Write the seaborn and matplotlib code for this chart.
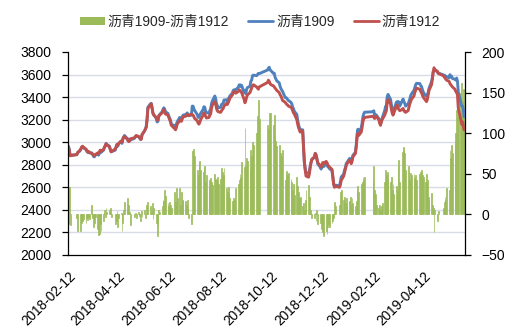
import numpy as np
import pandas as pd
import matplotlib
matplotlib.use("Agg")
import matplotlib.pyplot as plt
import matplotlib.dates as mdates
from matplotlib.patches import Patch
from matplotlib.lines import Line2D
import seaborn as sns

# ---------------- data ----------------
start_date = "2018-02-12"
end_date = "2019-05-31"
holidays = ["2018-02-15", "2018-02-16", "2018-02-19", "2018-02-20", "2018-02-21",
            "2018-04-05", "2018-04-06", "2018-04-30", "2018-05-01", "2018-06-18",
            "2018-09-24", "2018-10-01", "2018-10-02", "2018-10-03", "2018-10-04",
            "2018-10-05", "2018-12-31", "2019-01-01", "2019-02-04", "2019-02-05",
            "2019-02-06", "2019-02-07", "2019-02-08", "2019-04-05", "2019-05-01",
            "2019-05-02", "2019-05-03"]

blue_1909 = [
    2965, 2935, 2885, 2890, 2905, 2925, 2940, 2955,
    2960, 2950, 2935, 2920, 2910, 2915, 2905, 2905, 2890, 2875, 2870, 2885, 2895, 2885, 2900, 2920, 2910, 2930, 2955, 2965, 2990, 2980,
    2965, 2940, 2915, 2930, 2955, 2980, 2965, 2985, 3010, 2990, 3025, 3045, 3060, 3035, 3030, 3015, 3010, 3020,
    3035, 3050, 3055, 3050, 3040, 3025, 3030, 3065, 3100, 3115, 3140, 3205, 3310, 3340, 3345, 3310, 3255, 3245, 3210, 3180, 3185, 3235,
    3245, 3270, 3290, 3305, 3295, 3270, 3255, 3230, 3215, 3195, 3160, 3145, 3125, 3160, 3180, 3220, 3210, 3210, 3220, 3240,
    3245, 3250, 3260, 3245, 3235, 3240, 3320, 3320, 3295, 3280, 3245, 3220, 3220, 3240, 3255, 3290, 3315, 3310, 3270, 3265, 3255, 3280,
    3295, 3340, 3365, 3410, 3385, 3340, 3325, 3305, 3310, 3335, 3340, 3345, 3375, 3375, 3365, 3385, 3395, 3410, 3435, 3460, 3465, 3460, 3465,
    3487, 3507, 3510, 3495, 3505, 3440, 3455, 3430, 3470, 3485, 3495, 3540, 3550, 3590, 3595, 3590, 3600, 3610, 3608,
    3640, 3655, 3665, 3640, 3635, 3610, 3612, 3576, 3560, 3545, 3526, 3495, 3475, 3462, 3450, 3397, 3395, 3390,
    3378, 3370, 3354, 3340, 3310, 3298, 3274, 3246, 3195, 3158, 3130, 3112, 3110, 2964, 2826, 2768, 2730, 2726, 2742, 2786, 2822, 2846,
    2865, 2902, 2882, 2855, 2808, 2780, 2762, 2785, 2798, 2783, 2810, 2796, 2784, 2778, 2765, 2750, 2692, 2625, 2615, 2620,
    2612, 2648, 2690, 2718, 2752, 2774, 2810, 2820, 2856, 2852, 2822, 2850, 2884, 2910, 2976, 3070, 3115, 3088, 3128, 3170, 3226, 3252,
    3266, 3270, 3279, 3240, 3245, 3242, 3208, 3182, 3156, 3190, 3214, 3280, 3315, 3328, 3402,
    3424, 3380, 3336, 3290, 3278, 3285, 3355, 3360, 3360, 3357, 3320, 3367, 3383, 3360, 3345, 3320, 3340, 3362, 3382, 3411, 3428,
    3460, 3485, 3508, 3522, 3520, 3502, 3495, 3468, 3446, 3410, 3410, 3422, 3442, 3478, 3536, 3572, 3628, 3638, 3645, 3622, 3614,
    3598, 3595, 3592, 3578, 3582, 3570, 3599, 3580, 3585, 3565, 3558, 3550, 3569, 3540, 3445, 3350, 3322, 3320, 3295, 3225,
]

red_1912 = [
    2960, 2930, 2880, 2890, 2910, 2930, 2945, 2960,
    2965, 2955, 2940, 2925, 2915, 2920, 2910, 2900, 2895, 2885, 2880, 2890, 2905, 2900, 2915, 2930, 2920, 2935, 2955, 2970, 2985, 2975,
    2960, 2935, 2915, 2940, 2960, 2980, 2975, 2990, 3010, 3000, 3030, 3045, 3050, 3030, 3015, 3005, 3010, 3030,
    3040, 3050, 3060, 3050, 3040, 3030, 3025, 3070, 3100, 3120, 3130, 3200, 3300, 3330, 3340, 3300, 3260, 3240, 3220, 3200, 3195, 3230,
    3240, 3260, 3275, 3290, 3270, 3250, 3240, 3220, 3200, 3180, 3150, 3120, 3110, 3130, 3160, 3190, 3200, 3185, 3205, 3225,
    3230, 3240, 3245, 3235, 3240, 3250, 3245, 3240, 3225, 3210, 3190, 3170, 3160, 3175, 3200, 3240, 3260, 3250, 3230, 3215, 3220, 3240,
    3250, 3300, 3330, 3360, 3340, 3300, 3280, 3270, 3265, 3280, 3290, 3300, 3320, 3345, 3335, 3350, 3370, 3390, 3420, 3440, 3450, 3440, 3435,
    3450, 3465, 3460, 3450, 3440, 3380, 3350, 3370, 3400, 3420, 3440, 3460, 3480, 3500, 3510, 3490, 3480, 3470, 3490,
    3530, 3550, 3540, 3520, 3510, 3500, 3490, 3480, 3470, 3460, 3440, 3420, 3410, 3390, 3370, 3355, 3345, 3335,
    3330, 3320, 3310, 3300, 3280, 3260, 3250, 3200, 3160, 3130, 3110, 3090, 3100, 2950, 2820, 2750, 2700, 2690, 2720, 2780, 2820, 2850,
    2870, 2900, 2890, 2850, 2820, 2790, 2780, 2800, 2820, 2810, 2830, 2820, 2800, 2790, 2780, 2760, 2700, 2630, 2600, 2610,
    2600, 2620, 2660, 2700, 2730, 2760, 2790, 2810, 2840, 2830, 2810, 2830, 2870, 2900, 2960, 3040, 3080, 3060, 3090, 3130, 3180, 3210,
    3220, 3230, 3220, 3210, 3220, 3230, 3200, 3170, 3150, 3180, 3200, 3240, 3260, 3280, 3350,
    3380, 3340, 3290, 3260, 3240, 3260, 3320, 3330, 3300, 3290, 3280, 3290, 3300, 3280, 3270, 3265, 3280, 3310, 3340, 3360, 3380,
    3410, 3440, 3460, 3480, 3470, 3450, 3440, 3420, 3400, 3370, 3360, 3380, 3420, 3460, 3510, 3560, 3620, 3660, 3640, 3630, 3610,
    3590, 3580, 3570, 3560, 3550, 3540, 3520, 3510, 3500, 3490, 3470, 3450, 3440, 3420, 3300, 3200, 3160, 3180, 3140, 3110,
]

spread = [
    -12, 34, -13, -5, -21, -20, -8, -10,
    -8, -6, -10, -4, -7, -3, -6, 12, -5, -15, -10, -3, -18, -25, -24, -12, -20, -8, 5, -3, 8, 3,
    6, 8, -3, -12, -8, 4, -15, -5, 2, -20, -10, 5, 15, 8, 20, 12, 3, -13,
    -3, 2, -5, 3, -2, -8, 4, -3, 5, -4, 12, 6, 15, 10, 3, 14, -6, 8, -10, -26, -15, 5,
    3, 10, 18, 16, 30, 23, 14, 10, 15, 12, 8, 27, 15, 32, 20, 32, 12, 28, 18, 16,
    16, 12, 18, 8, -5, -12, 78, 80, 70, 72, 55, 48, 62, 66, 55, 52, 58, 60, 40, 48, 35, 42,
    45, 40, 36, 50, 44, 42, 46, 38, 44, 57, 52, 48, 57, 32, 28, 34, 25, 20, 16, 20, 14, 18, 32,
    37, 42, 50, 45, 64, 58, 106, 60, 69, 66, 55, 79, 72, 89, 85, 100, 121, 141, 118,
    110, 105, 125, 120, 125, 110, 122, 96, 90, 84, 86, 75, 63, 72, 79, 42, 50, 54,
    48, 51, 44, 40, 30, 38, 24, 46, 35, 28, 20, 22, 10, 14, 6, 18, 30, 36, 22, 6, 2, -4,
    -5, 2, -8, 5, -12, -10, -18, -15, -22, -27, -20, -24, -16, -12, -15, -10, -8, -5, 15, 10,
    12, 28, 30, 18, 22, 14, 20, 10, 16, 22, 12, 20, 14, 10, 16, 30, 35, 28, 38, 40, 46, 42,
    46, 40, 59, 30, 25, 12, 8, 12, 6, 10, 14, 40, 55, 48, 52,
    44, 40, 46, 30, 38, 25, 35, 30, 60, 67, 40, 77, 83, 80, 75, 55, 60, 52, 42, 51, 48,
    50, 45, 48, 42, 50, 52, 55, 48, 46, 40, 50, 42, 22, 18, 26, 12, 8, -22, 5, -8, 4,
    8, 15, 22, 18, 32, 30, 79, 70, 85, 75, 88, 100, 129, 120, 145, 150, 162, 140, 155, 115,
]

label_bar = "沥青1909-沥青1912"
label_blue = "沥青1909"
label_red = "沥青1912"
left_ticks = [2000, 2200, 2400, 2600, 2800, 3000, 3200, 3400, 3600, 3800]
right_ticks = [-50, 0, 50, 100, 150, 200]
x_tick_dates = ["2018-02-12", "2018-04-12", "2018-06-12", "2018-08-12",
                "2018-10-12", "2018-12-12", "2019-02-12", "2019-04-12"]

# ---------------- style ----------------
sns.set_style("white")
plt.rcParams["font.family"] = ["Liberation Sans", "Noto Sans CJK SC", "DejaVu Sans"]

GREEN = "#9BBB59"
BLUE = "#4F81BD"
RED = "#C0504D"
GRID = "#D9DCE6"

dates = pd.bdate_range(start_date, end_date, freq="C", holidays=holidays)
xnum = mdates.date2num(dates.to_pydatetime())
df = pd.DataFrame({"x": xnum, "blue": blue_1909, "red": red_1912, "spread": spread})

fig = plt.figure(figsize=(5.15, 3.36), dpi=100)
ax = fig.add_axes([68 / 515, 1 - 255 / 336, (465 - 68) / 515, (255 - 52) / 336])
ax2 = ax.twinx()
ax.set_zorder(ax2.get_zorder() + 1)
ax.patch.set_visible(False)

# bars (right axis, drawn behind)
sns.barplot(data=df, x="x", y="spread", native_scale=True, ax=ax2, color=GREEN,
            saturation=1, width=1.0, errorbar=None, linewidth=0.5, edgecolor=GREEN)
ax2.set_ylim(right_ticks[0], right_ticks[-1])
ax2.set_yticks(right_ticks)

# gridlines aligned with left-axis ticks, drawn on the bar axes (behind bars)
lo, hi = left_ticks[0], left_ticks[-1]
rlo, rhi = right_ticks[0], right_ticks[-1]
grid_pos = [rlo + (v - lo) / (hi - lo) * (rhi - rlo) for v in left_ticks]
ax2.set_yticks(grid_pos, minor=True)
ax2.grid(True, which="minor", axis="y", color=GRID, linewidth=1.0)
ax2.grid(False, which="major")
ax2.set_axisbelow(True)
ax2.tick_params(axis="y", which="minor", length=0)

# lines (left axis, on top)
sns.lineplot(data=df, x="x", y="blue", ax=ax, color=BLUE, linewidth=2.1, estimator=None)
sns.lineplot(data=df, x="x", y="red", ax=ax, color=RED, linewidth=2.1, estimator=None)
ax.set_ylim(lo, hi)
ax.set_yticks(left_ticks)

# x axis
xt = mdates.date2num(pd.to_datetime(x_tick_dates).to_pydatetime())
ax.set_xticks(xt)
ax.xaxis.set_major_formatter(mdates.DateFormatter("%Y-%m-%d"))
ax.set_xlim(xnum[0] - 0.5, mdates.date2num(pd.Timestamp("2019-06-01").to_pydatetime()))
for lbl in ax.get_xticklabels():
    lbl.set_rotation(45)
    lbl.set_ha("right")
    lbl.set_rotation_mode("anchor")

ax.set_xlabel("")
ax.set_ylabel("")
ax2.set_ylabel("")

for a in (ax, ax2):
    a.spines["top"].set_visible(False)
    for s in ("left", "right", "bottom"):
        a.spines[s].set_color("#000000")
        a.spines[s].set_linewidth(0.9)
ax.spines["right"].set_visible(False)
ax2.spines["left"].set_visible(False)
ax2.spines["bottom"].set_visible(False)

ax.tick_params(axis="y", direction="out", length=4, width=0.9, pad=8, labelsize=10, colors="#000000")
ax.tick_params(axis="x", direction="out", length=4, width=0.9, pad=6, labelsize=9.8, colors="#000000")
ax2.tick_params(axis="y", which="major", direction="out", length=4, width=0.9, pad=8, labelsize=10, colors="#000000")

handles = [Patch(facecolor=GREEN, edgecolor="none"),
           Line2D([], [], color=BLUE, linewidth=2.0),
           Line2D([], [], color=RED, linewidth=2.0)]
fig.legend(handles, [label_bar, label_blue, label_red], loc="center",
           bbox_to_anchor=(0.505, 0.935), ncol=3, frameon=False, fontsize=10,
           handlelength=1.8, handletextpad=0.2, columnspacing=1.4, handleheight=0.55)

fig.savefig("out.png", dpi=100, facecolor="white")
